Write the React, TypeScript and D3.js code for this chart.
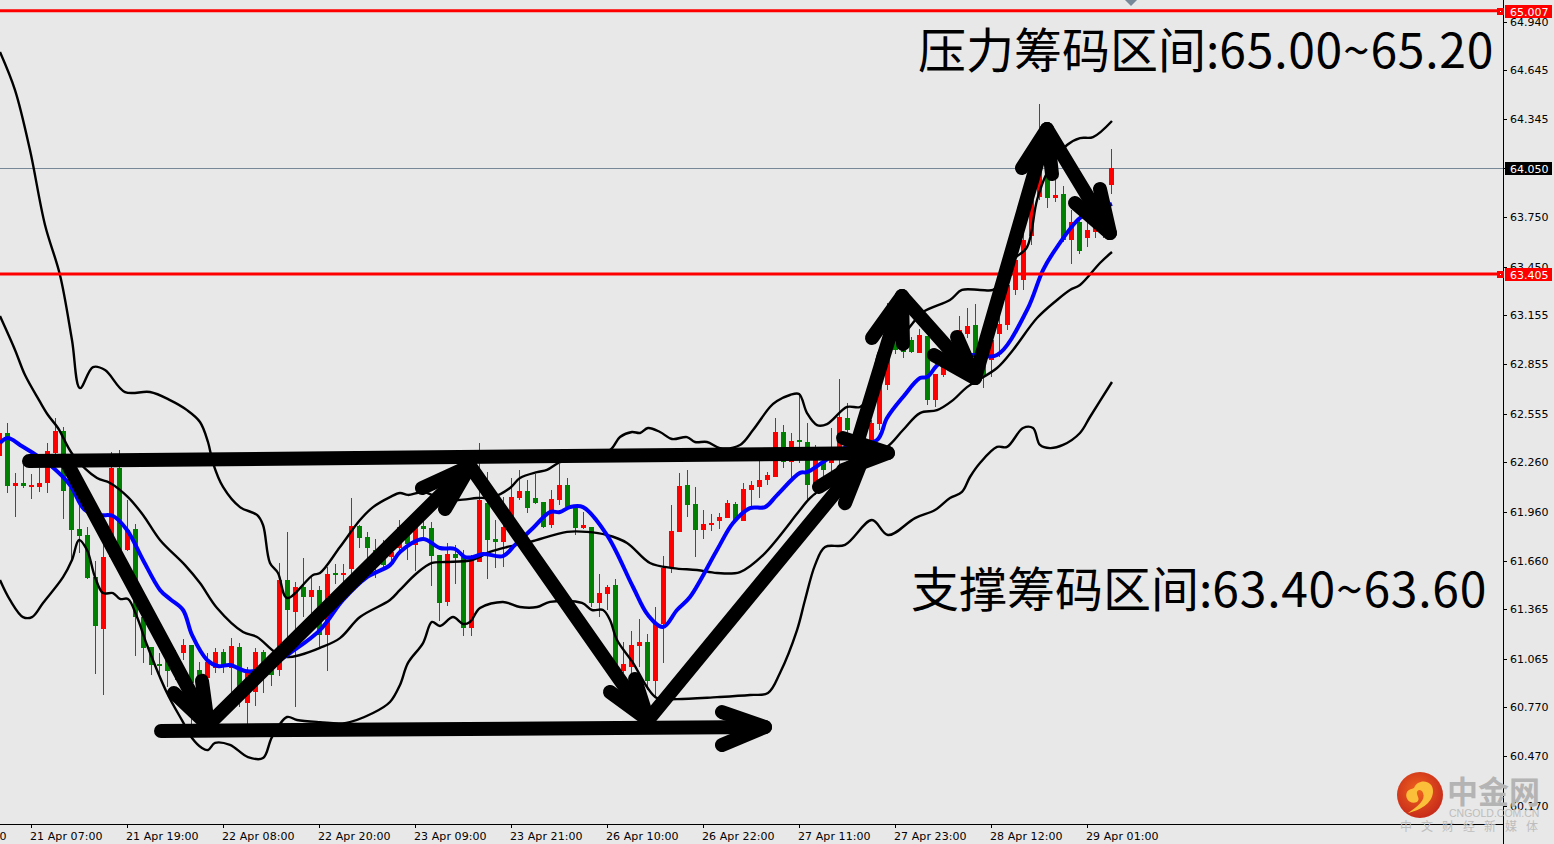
import React from "react";
import * as d3 from "d3";

const opens = [62.297,62.438,62.116,62.134,62.116,62.110,62.134,62.316,62.450,62.103,61.854,61.817,61.561,61.245,61.683,62.225,61.726,61.854,61.318,61.136,61.032,61.075,60.984,61.099,61.148,60.996,60.947,61.008,61.105,61.008,61.136,60.795,60.862,61.105,60.996,60.996,61.543,61.349,61.501,61.440,61.483,61.209,61.586,61.574,61.610,61.872,61.805,61.726,61.714,61.683,61.738,61.848,61.757,61.872,61.860,61.695,61.410,61.702,61.683,61.251,61.653,62.012,61.793,61.775,61.908,62.042,62.085,62.042,62.018,61.878,62.030,62.122,61.987,61.860,61.866,61.404,61.458,61.513,60.990,61.014,61.142,61.166,60.929,61.276,61.616,61.836,62.122,62.006,61.848,61.878,61.902,61.920,62.006,61.902,62.091,62.110,62.152,62.170,62.444,62.261,62.395,62.383,62.134,62.261,62.255,62.353,62.529,62.334,62.365,62.395,62.493,62.730,63.004,63.034,63.004,62.925,63.028,62.638,62.790,62.839,62.906,63.040,63.095,62.882,62.882,63.040,63.095,63.308,63.369,63.636,63.873,63.989,63.867,63.892,63.612,63.721,63.624,63.660,63.642,63.947];
const closes = [62.438,62.116,62.134,62.116,62.122,62.134,62.328,62.450,62.085,61.848,61.811,61.555,61.264,61.683,62.225,61.726,61.848,61.318,61.130,61.026,61.020,60.990,61.087,61.148,60.917,60.813,61.045,61.105,61.014,61.142,60.874,60.978,61.105,60.996,60.965,61.543,61.361,61.501,61.440,61.483,61.209,61.580,61.574,61.586,61.872,61.799,61.738,61.695,61.634,61.714,61.866,61.763,61.866,61.854,61.689,61.404,61.702,61.677,61.251,61.665,62.030,61.787,61.775,61.866,62.048,62.085,61.981,62.012,61.866,62.036,62.122,61.987,61.860,61.878,61.404,61.464,61.501,61.014,61.032,61.148,61.166,60.929,61.282,61.616,61.842,62.116,62.000,61.848,61.884,61.890,61.926,62.012,61.908,62.097,62.122,62.152,62.182,62.444,62.261,62.389,62.383,62.122,62.273,62.213,62.353,62.535,62.456,62.395,62.456,62.499,62.742,63.034,62.943,62.931,62.931,63.034,62.638,62.796,62.839,62.912,63.064,63.089,62.900,62.790,63.004,63.101,63.338,63.490,63.612,63.855,64.159,63.867,63.886,63.612,63.721,63.545,63.673,63.685,63.703,64.050];
const highs = [62.517,62.499,62.195,62.243,62.189,62.225,62.377,62.529,62.474,62.103,62.091,61.866,61.659,61.769,62.322,62.334,62.030,61.884,61.379,61.136,61.099,61.087,61.118,61.184,61.148,61.045,61.099,61.130,61.124,61.190,61.160,61.014,61.130,61.118,61.014,61.647,61.836,61.531,61.677,61.562,61.507,61.622,61.641,61.641,62.042,61.878,61.836,61.793,61.787,61.757,61.908,61.878,61.908,61.908,61.896,61.695,61.769,61.757,61.726,61.695,62.377,62.200,61.908,62.048,62.164,62.213,62.152,62.189,62.018,62.091,62.249,62.164,61.987,61.957,61.866,61.580,61.513,61.549,61.166,61.233,61.306,61.215,61.379,61.689,62.000,62.195,62.213,62.110,61.969,61.945,61.951,62.030,62.018,62.134,62.146,62.267,62.200,62.529,62.486,62.438,62.681,62.499,62.365,62.304,62.468,62.766,62.620,62.456,62.517,62.517,62.791,63.229,63.064,63.095,63.022,63.070,63.028,62.796,62.863,62.943,63.150,63.198,63.223,62.943,63.125,63.168,63.429,63.508,63.654,63.886,64.439,64.099,63.977,63.940,63.794,63.752,63.734,63.715,63.764,64.165];
const lows = [62.243,62.073,61.926,62.103,62.036,62.079,62.073,62.292,61.914,61.665,61.708,61.549,60.971,60.844,61.683,61.714,61.720,61.081,61.039,60.965,60.953,60.892,60.935,61.057,60.661,60.740,60.923,60.978,60.978,60.856,60.770,60.588,60.776,60.856,60.898,60.959,61.075,60.770,61.318,61.343,61.136,60.990,61.519,61.519,61.543,61.738,61.647,61.555,61.604,61.653,61.714,61.665,61.598,61.787,61.507,61.294,61.385,61.519,61.203,61.203,61.653,61.549,61.616,61.622,61.817,62.030,61.951,62.006,61.860,61.860,62.000,61.981,61.817,61.854,61.379,61.318,61.361,60.917,60.978,60.917,61.014,60.874,60.825,61.039,61.586,61.836,61.926,61.683,61.793,61.842,61.854,61.920,61.908,61.902,61.981,62.042,62.122,62.170,62.225,62.140,62.255,62.030,62.061,62.152,62.182,62.243,62.377,62.304,62.334,62.365,62.456,62.699,62.918,62.894,62.925,62.925,62.608,62.596,62.778,62.809,62.882,63.016,62.870,62.711,62.778,62.900,63.064,63.277,63.308,63.582,63.855,63.807,63.843,63.600,63.466,63.527,63.570,63.624,63.624,63.892];

const upperBand = [[0.06,64.756],[1.94,64.524],[3.81,64.159],[5.69,63.703],[7.56,63.399],[9.06,63.004],[10.06,62.711],[11.69,62.839],[13.19,62.821],[15.69,62.687],[18.81,62.687],[21.31,62.638],[23.44,62.577],[25.06,62.505],[26.06,62.383],[26.69,62.255],[27.94,62.110],[30.06,61.987],[32.19,61.939],[32.94,61.878],[33.81,61.647],[34.81,61.586],[35.94,61.434],[39.19,61.574],[40.06,61.586],[42.56,61.744],[45.06,61.908],[46.69,61.987],[48.81,62.048],[50.06,62.073],[51.06,62.061],[52.94,62.079],[55.06,62.042],[57.31,62.030],[59.69,62.042],[61.69,62.048],[63.81,62.103],[65.06,62.164],[67.19,62.200],[68.44,62.213],[70.06,62.261],[73.19,62.304],[76.31,62.334],[77.56,62.413],[79.06,62.444],[80.06,62.438],[81.06,62.468],[82.56,62.444],[84.06,62.401],[85.94,62.413],[86.94,62.383],[88.44,62.383],[90.06,62.346],[92.56,62.365],[94.19,62.456],[96.31,62.596],[97.19,62.632],[98.81,62.669],[99.94,62.675],[100.94,62.559],[102.19,62.486],[103.44,62.492],[105.94,62.596],[107.56,62.596],[108.81,62.669],[110.06,62.943],[111.94,63.004],[113.44,63.064],[115.44,63.174],[118.81,63.247],[120.31,63.308],[122.56,63.308],[124.19,63.308],[125.06,63.350],[126.69,63.490],[128.44,63.569],[129.69,63.855],[130.94,64.020],[133.44,64.190],[135.06,64.232],[136.69,64.238],[139.06,64.336]];
const middleBand = [[0.06,63.149],[1.94,62.943],[3.19,62.790],[4.94,62.638],[6.06,62.547],[7.31,62.468],[9.19,62.304],[12.19,62.164],[13.81,62.134],[16.06,62.048],[17.94,61.939],[20.06,61.787],[23.19,61.634],[25.06,61.525],[27.19,61.373],[30.44,61.227],[32.19,61.197],[34.44,61.105],[35.94,61.075],[37.56,61.087],[40.06,61.130],[42.56,61.190],[45.06,61.318],[48.81,61.422],[50.06,61.483],[52.19,61.586],[54.06,61.647],[55.69,61.653],[59.06,61.665],[61.31,61.714],[63.44,61.744],[66.31,61.775],[70.94,61.836],[73.44,61.836],[75.94,61.817],[78.44,61.769],[81.31,61.647],[84.19,61.616],[87.19,61.604],[89.69,61.586],[92.56,61.592],[95.44,61.695],[100.06,61.969],[101.31,62.042],[105.06,62.182],[107.56,62.273],[110.94,62.353],[112.94,62.456],[115.06,62.559],[117.19,62.577],[119.19,62.638],[120.94,62.717],[124.69,62.833],[126.69,62.943],[129.69,63.137],[132.19,63.247],[133.81,63.308],[135.06,63.338],[137.56,63.472],[139.06,63.539]];
const lowerBand = [[0.06,61.543],[1.31,61.422],[2.94,61.318],[4.06,61.318],[5.44,61.404],[7.94,61.561],[9.06,61.665],[9.94,61.787],[10.94,61.726],[11.94,61.561],[12.94,61.464],[14.19,61.464],[15.06,61.428],[16.06,61.428],[17.19,61.318],[18.44,61.148],[20.94,60.856],[22.94,60.679],[24.06,60.582],[25.31,60.521],[26.06,60.509],[26.94,60.552],[28.81,60.540],[31.06,60.466],[32.94,60.460],[34.06,60.588],[35.94,60.710],[37.19,60.692],[40.06,60.679],[43.19,60.673],[46.69,60.734],[48.81,60.801],[50.06,60.905],[51.06,61.039],[52.94,61.160],[54.06,61.288],[55.06,61.264],[56.69,61.318],[57.94,61.276],[58.81,61.288],[60.06,61.373],[62.94,61.410],[65.06,61.379],[67.19,61.379],[68.81,61.410],[72.81,61.404],[74.06,61.361],[75.44,61.361],[76.31,61.300],[77.19,61.178],[79.19,61.039],[80.94,60.892],[82.19,60.825],[84.69,60.819],[89.69,60.831],[93.81,60.844],[96.06,60.856],[97.56,60.978],[99.69,61.239],[100.69,61.422],[101.94,61.634],[103.19,61.744],[105.69,61.757],[109.06,61.908],[111.06,61.817],[114.44,61.920],[116.94,61.969],[118.81,62.042],[120.31,62.079],[121.31,62.170],[122.56,62.255],[124.69,62.353],[125.94,62.353],[127.94,62.468],[129.19,62.468],[130.06,62.365],[131.31,62.346],[132.94,62.365],[135.06,62.438],[136.31,62.535],[139.06,62.748]];
const movingAverage = [[0.06,62.377],[1.06,62.407],[2.56,62.365],[4.19,62.316],[6.31,62.243],[8.81,62.122],[10.69,61.969],[12.56,61.939],[14.19,61.933],[15.94,61.848],[17.94,61.665],[20.06,61.483],[21.31,61.428],[22.94,61.361],[24.06,61.209],[25.94,61.057],[27.31,61.020],[28.81,61.026],[30.69,60.990],[31.94,60.990],[34.06,61.026],[36.31,61.099],[40.06,61.239],[42.94,61.422],[45.94,61.561],[48.81,61.634],[50.06,61.714],[52.94,61.793],[55.06,61.738],[56.94,61.732],[58.19,61.683],[59.19,61.683],[60.44,61.702],[62.94,61.689],[64.44,61.757],[66.69,61.860],[68.81,61.957],[70.06,61.957],[71.31,61.987],[72.94,61.987],[75.94,61.817],[79.19,61.501],[81.06,61.330],[82.94,61.257],[84.69,61.361],[86.31,61.440],[89.69,61.726],[91.69,61.890],[93.81,61.981],[95.69,61.987],[97.19,62.060],[100.06,62.195],[100.94,62.200],[102.94,62.261],[105.94,62.353],[109.69,62.395],[110.94,62.529],[112.94,62.657],[115.06,62.772],[115.94,62.778],[117.56,62.863],[121.69,62.912],[124.69,62.912],[128.44,63.186],[130.44,63.429],[132.19,63.569],[135.06,63.746],[137.19,63.794],[139.06,63.831]];

// hand-drawn annotation strokes: [bar, price] polylines
const annotationStrokes = [
  [[3.69,62.267],[111.06,62.316]],
  [[105.44,62.407],[111.06,62.316],[105.44,62.213]],
  [[8.31,62.267],[26.06,60.661]],
  [[21.81,60.856],[26.06,60.661],[25.31,60.930]],
  [[26.06,60.661],[58.81,62.237]],
  [[52.81,62.103],[58.81,62.237],[55.69,61.975]],
  [[58.81,62.237],[81.06,60.692]],
  [[76.31,60.862],[81.06,60.692],[79.44,60.941]],
  [[81.06,60.692],[107.81,62.273]],
  [[102.44,62.110],[107.81,62.273],[105.69,62.011]],
  [[106.94,62.334],[112.81,63.271]],
  [[109.06,63.016],[112.81,63.271],[112.94,62.979]],
  [[112.81,63.271],[121.94,62.772]],
  [[116.81,62.912],[121.94,62.772],[119.69,63.022]],
  [[121.94,62.772],[130.94,64.287]],
  [[127.81,64.050],[130.94,64.287],[131.56,64.013]],
  [[130.94,64.287],[138.81,63.654]],
  [[134.44,63.837],[138.81,63.654],[137.56,63.922]],
  [[20.19,60.625],[95.69,60.649]],
  [[90.31,60.740],[95.69,60.649],[90.31,60.540]],
];

const priceTicks = [64.94,64.645,64.345,64.05,63.75,63.45,63.155,62.855,62.555,62.26,61.96,61.66,61.365,61.065,60.77,60.47,60.17];
const timeTicks = [-8,4,16,28,40,52,64,76,88,100,112,124,136];
const timeLabels = ["20 Apr 19:00","21 Apr 07:00","21 Apr 19:00","22 Apr 08:00","22 Apr 20:00","23 Apr 09:00","23 Apr 21:00","26 Apr 10:00","26 Apr 22:00","27 Apr 11:00","27 Apr 23:00","28 Apr 12:00","29 Apr 01:00"];

const currentPrice = 64.05;
const resistanceLevel = 65.007;
const supportLevel = 63.405;
const resistanceTitle = "压力筹码区间:";
const resistanceRange = "65.00~65.20";
const supportTitle = "支撑筹码区间:";
const supportRange = "63.40~63.60";

const W = 1554, H = 844;
const axisX = 1503, axisY = 824;
const UP = "#ff0000", DOWN = "#008000";
const UI = "'DejaVu Sans', sans-serif";
const CJK = "'Noto Sans CJK SC', 'Noto Sans', sans-serif";

const x = d3.scaleLinear().domain([0, 139]).range([-0.5, 1111.5]);
const y = d3.scaleLinear().domain([65.072, 60.205]).range([0, 800]);

export default function App() {
  const line = d3.line<number[]>().x((d) => x(d[0])).y((d) => y(d[1]));
  const curve = d3.line<number[]>().x((d) => x(d[0])).y((d) => y(d[1])).curve(d3.curveCatmullRom.alpha(0.5));
  const band = (data: number[][], key: string) => (
    <path key={key} d={curve(data) || ""} fill="none" stroke="#000" strokeWidth={2.4} strokeLinejoin="round" />
  );
  return (
    <svg width={W} height={H} style={{ position: "absolute", left: 0, top: 0, display: "block", background: "#e8e8e8" }}>
      <defs>
        <radialGradient id="logoGrad" cx="45%" cy="40%" r="65%">
          <stop offset="0%" stopColor="#f0641e" />
          <stop offset="100%" stopColor="#c4261a" />
        </radialGradient>
        <clipPath id="plot"><rect x={0} y={0} width={axisX} height={axisY} /></clipPath>
      </defs>

      <g clipPath="url(#plot)">
        <line x1={0} x2={axisX} y1={Math.round(y(currentPrice)) + 0.5} y2={Math.round(y(currentPrice)) + 0.5} stroke="#778899" strokeWidth={1} />
        <g shapeRendering="crispEdges">
          {opens.map((o, i) => {
            const c = closes[i];
            const col = c >= o ? UP : DOWN;
            const cx = x(i);
            const top = y(Math.max(o, c));
            const bot = y(Math.min(o, c));
            return (
              <g key={i}>
                <line x1={cx} x2={cx} y1={y(highs[i])} y2={y(lows[i])} stroke={col} strokeWidth={1} />
                <rect x={cx - 2.5} y={top} width={5} height={Math.max(bot - top, 2)} fill={col} />
              </g>
            );
          })}
        </g>
        {band(upperBand, "u")}
        {band(middleBand, "m")}
        {band(lowerBand, "l")}
        <path d={curve(movingAverage) || ""} fill="none" stroke="#0000ff" strokeWidth={4} strokeLinejoin="round" />
        <line x1={0} x2={axisX} y1={y(supportLevel)} y2={y(supportLevel)} stroke="#ff0000" strokeWidth={3} />
        <line x1={0} x2={axisX} y1={y(resistanceLevel)} y2={y(resistanceLevel)} stroke="#ff0000" strokeWidth={3} />
        {annotationStrokes.map((s, i) => (
          <path key={i} d={line(s) || ""} fill="none" stroke="#000" strokeWidth={14} strokeLinecap="round" strokeLinejoin="round" />
        ))}
      </g>

      <path d="M1125 0 L1137 0 L1131 6 Z" fill="#778899" />

      <text x={918} y={68} fontFamily={CJK} fontSize={48} fill="#000">
        {resistanceTitle}
        <tspan letterSpacing={0.75}>{resistanceRange}</tspan>
      </text>
      <text x={911} y={607} fontFamily={CJK} fontSize={48} fill="#000">
        {supportTitle}
        <tspan letterSpacing={0.75}>{supportRange}</tspan>
      </text>

      <line x1={axisX + 0.5} x2={axisX + 0.5} y1={0} y2={H} stroke="#000" />
      <line x1={0} x2={axisX + 1} y1={axisY + 0.5} y2={axisY + 0.5} stroke="#000" />

      {priceTicks.map((t) => (
        <g key={t}>
          <line x1={axisX} x2={axisX + 4} y1={Math.round(y(t)) + 0.5} y2={Math.round(y(t)) + 0.5} stroke="#000" />
          <text x={1510} y={y(t) + 4} fontFamily={UI} fontSize={11} fill="#000">{d3.format(".3f")(t)}</text>
        </g>
      ))}
      {timeTicks.map((t, i) => (
        <g key={t}>
          <line x1={x(t)} x2={x(t)} y1={axisY} y2={axisY + 4} stroke="#000" />
          <text x={x(t) - 1.5} y={840} fontFamily={UI} fontSize={11} letterSpacing={0.08} fill="#000">{timeLabels[i]}</text>
        </g>
      ))}

      {[
        { v: resistanceLevel, bg: "#ff0000" },
        { v: currentPrice, bg: "#000000" },
        { v: supportLevel, bg: "#ff0000" },
      ].map(({ v, bg }) => {
        const cy = Math.round(y(v)) + 0.5;
        return (
          <g key={v}>
            <rect x={1505} y={cy - 6.5} width={47} height={13} fill={bg} />
            {bg !== "#000000" && <rect x={1497} y={cy - 3.5} width={7} height={7} fill="#ff0000" />}
            {bg !== "#000000" && <rect x={1500} y={cy - 0.5} width={1} height={1} fill="#fff" />}
            <text x={1510} y={cy + 4} fontFamily={UI} fontSize={11} fill="#fff">{d3.format(".3f")(v)}</text>
          </g>
        );
      })}

      <g>
        <circle cx={1420} cy={795} r={23} fill="url(#logoGrad)" />
        <path d="M1414 788 C1418 778 1434 780 1433 792 C1432 804 1420 810 1408 813 C1418 806 1426 800 1423 793 C1421 788 1416 790 1417 794 C1418 798 1420 799 1417 802 C1410 805 1404 798 1407 792 C1409 789 1412 789 1414 788 Z" fill="#fbbf3a" />
        <text x={1447} y={803} fontFamily={CJK} fontWeight={700} fontSize={31} fill="#b4b4b4">中金网</text>
        <text x={1449} y={817} fontFamily="'Liberation Sans', sans-serif" fontSize={10.5} fill="#bdbdbd">CNGOLD.COM.CN</text>
        <text x={1400} y={831} fontFamily={CJK} fontSize={12} letterSpacing={9} fill="#bdbdbd">中文财经新媒体</text>
      </g>
    </svg>
  );
}
